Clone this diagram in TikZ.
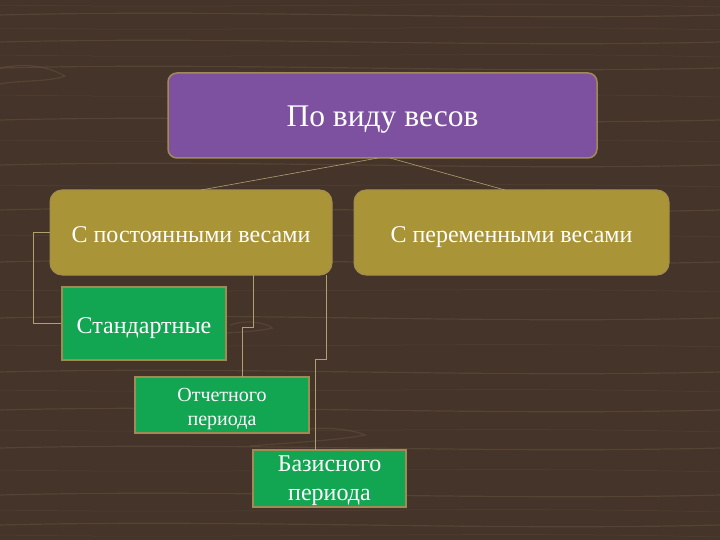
\documentclass[tikz,border=0pt]{standalone}
\usepackage{fontspec}
\setmainfont{Liberation Serif}
\definecolor{wood}{HTML}{45342A}
\definecolor{grain}{HTML}{6E5A45}
\definecolor{purp}{HTML}{7D50A0}
\definecolor{goldb}{HTML}{A99437}
\definecolor{greenb}{HTML}{12A552}
\definecolor{rim}{HTML}{A08B55}
\definecolor{linec}{HTML}{B0A070}
\tikzset{
  topbox/.style={draw=rim, line width=1.5pt, fill=purp, rounded corners=9pt, text=white, font=\fontsize{31.5}{34}\selectfont, text height=23pt, text depth=0pt},
  midbox/.style={draw=rim!80!goldb, line width=1pt, fill=goldb, rounded corners=12pt, text=white, font=\fontsize{24}{28}\selectfont, text height=21pt, text depth=0pt},
  leafbox/.style={draw=rim, line width=1.5pt, fill=greenb, text=white, align=center},
  leaftext/.style={text=white, align=center, inner sep=0pt},
  conn/.style={draw=linec, line width=0.6pt},
}
\begin{document}
\begin{tikzpicture}[x=1pt,y=-1pt]
\fill[wood] (0,0) rectangle (720,540);
\useasboundingbox (0,0) rectangle (720,540);
% wood grain
\begin{scope}[grain, line width=1.2pt, opacity=0.4]
\foreach \y in {15,42,68,120,165,210,262,318,372,410,448,495,525}{
  \draw (0,\y) .. controls (240,\y-6) and (480,\y+6) .. (720,\y);
}
\draw (0,68) .. controls (40,60) and (60,74) .. (65,76) .. controls (50,82) and (20,80) .. (0,84);
\draw (230,325) .. controls (250,318) and (270,325) .. (272,328) .. controls (250,334) and (200,332) .. (150,340);
\draw (300,430) .. controls (330,425) and (360,432) .. (365,435) .. controls (340,440) and (300,442) .. (250,446);
\end{scope}
\begin{scope}[grain, line width=0.5pt, opacity=0.3]
\foreach \y in {5,28,55,95,140,185,235,290,345,390,430,470,510,535}{
  \draw (0,\y) .. controls (240,\y+4) and (480,\y-4) .. (720,\y+2);
}
\end{scope}
% nodes
\node[topbox, minimum width=429pt, minimum height=85pt] (top) at (382.5,115.5) {По виду весов};
\node[midbox, minimum width=282pt, minimum height=85pt] (left) at (191,232.5) {С постоянными весами};
\node[midbox, minimum width=315pt, minimum height=85pt] (right) at (511.5,232.5) {С переменными весами};
\node[leafbox, minimum width=164pt, minimum height=73pt, font=\fontsize{24}{28}\selectfont, text height=19pt, text depth=0pt] (std) at (144,323.5) {Стандартные};
\node[leafbox, minimum width=174pt, minimum height=56pt] (otch) at (222,405) {};
\node[leaftext, font=\fontsize{20}{24}\selectfont, yshift=-4pt] (otchT) at (otch.center) {Отчетного\\периода};
\node[leafbox, minimum width=153pt, minimum height=57pt] (baz) at (329.5,478.5) {};
\node[leaftext, font=\fontsize{24}{29}\selectfont, yshift=-2pt] (bazT) at (baz.center) {Базисного\\периода};
% connectors
\coordinate (tl) at (378,158);
\coordinate (tr) at (390,158);
\draw[conn] (tl) -- (201,190);
\draw[conn] (tr) -- (505,190);
\draw[conn] (left.west) -- (33,232.5) |- (std.west);
\draw[conn] (253,275) -- (253,327) -- (242,327) -- (242,377);
\draw[conn] (326,275) -- (326,359) -- (315,359) -- (315,450);
\end{tikzpicture}
\end{document}
